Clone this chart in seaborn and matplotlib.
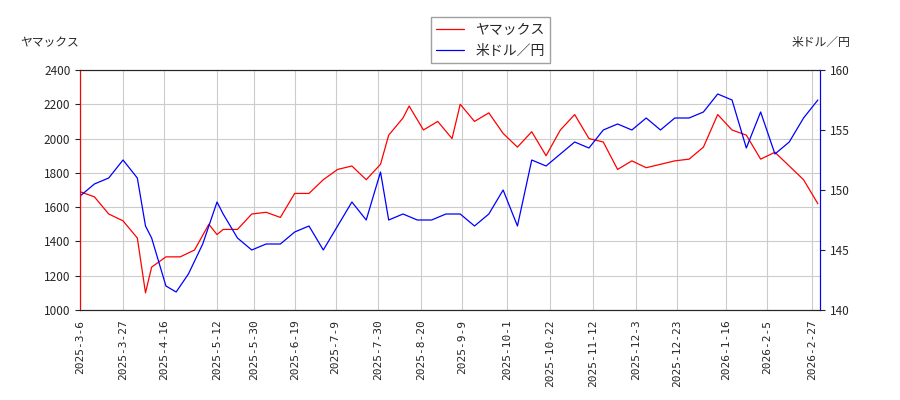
import pandas as pd
import matplotlib
matplotlib.use('Agg')
import matplotlib.pyplot as plt
import seaborn as sns

sns.set_style('white')
plt.rcParams['font.family'] = ['Noto Sans CJK JP', 'DejaVu Sans']

# ── データ ──
dates_red = ['2025-03-06', '2025-03-13', '2025-03-20', '2025-03-27', '2025-04-03', '2025-04-07',
             '2025-04-10', '2025-04-17', '2025-04-24', '2025-05-01', '2025-05-08', '2025-05-12',
             '2025-05-15', '2025-05-22', '2025-05-29', '2025-06-05', '2025-06-12', '2025-06-19',
             '2025-06-26', '2025-07-03', '2025-07-10', '2025-07-17', '2025-07-24', '2025-07-31',
             '2025-08-04', '2025-08-11', '2025-08-14', '2025-08-21', '2025-08-28', '2025-09-04',
             '2025-09-08', '2025-09-15', '2025-09-22', '2025-09-29', '2025-10-06', '2025-10-13',
             '2025-10-20', '2025-10-27', '2025-11-03', '2025-11-10', '2025-11-17', '2025-11-24',
             '2025-12-01', '2025-12-08', '2025-12-15', '2025-12-22', '2025-12-29', '2026-01-05',
             '2026-01-12', '2026-01-19', '2026-01-26', '2026-02-02', '2026-02-09', '2026-02-16',
             '2026-02-23', '2026-03-02']
yamax = [1690, 1660, 1560, 1520, 1420, 1100, 1250, 1310, 1310, 1350, 1500, 1440,
         1470, 1470, 1560, 1570, 1540, 1680, 1680, 1760, 1820, 1840, 1760, 1850,
         2020, 2120, 2190, 2050, 2100, 2000, 2200, 2100, 2150, 2030, 1950, 2040,
         1900, 2050, 2140, 2000, 1980, 1820, 1870, 1830, 1850, 1870, 1880, 1950,
         2140, 2050, 2020, 1880, 1920, 1840, 1760, 1620]

dates_blue = ['2025-03-06', '2025-03-13', '2025-03-20', '2025-03-27', '2025-04-03', '2025-04-07',
              '2025-04-10', '2025-04-17', '2025-04-22', '2025-04-28', '2025-05-05', '2025-05-12',
              '2025-05-15', '2025-05-22', '2025-05-29', '2025-06-05', '2025-06-12', '2025-06-19',
              '2025-06-26', '2025-07-03', '2025-07-10', '2025-07-17', '2025-07-24', '2025-07-31',
              '2025-08-04', '2025-08-11', '2025-08-18', '2025-08-25', '2025-09-01', '2025-09-08',
              '2025-09-15', '2025-09-22', '2025-09-29', '2025-10-06', '2025-10-13', '2025-10-20',
              '2025-10-27', '2025-11-03', '2025-11-10', '2025-11-17', '2025-11-24', '2025-12-01',
              '2025-12-08', '2025-12-15', '2025-12-22', '2025-12-29', '2026-01-05', '2026-01-12',
              '2026-01-19', '2026-01-26', '2026-02-02', '2026-02-09', '2026-02-16', '2026-02-23',
              '2026-03-02']
usdjpy = [149.5, 150.5, 151, 152.5, 151, 147, 146, 142, 141.5, 143, 145.5, 149,
          148, 146, 145, 145.5, 145.5, 146.5, 147, 145, 147, 149, 147.5, 151.5,
          147.5, 148, 147.5, 147.5, 148, 148, 147, 148, 150, 147, 152.5, 152,
          153, 154, 153.5, 155, 155.5, 155, 156, 155, 156, 156, 156.5, 158,
          157.5, 153.5, 156.5, 153, 154, 156, 157.5]

df_r = pd.DataFrame({'date': pd.to_datetime(dates_red), 'v': yamax})
df_b = pd.DataFrame({'date': pd.to_datetime(dates_blue), 'v': usdjpy})

tick_labels = ['2025-3-6', '2025-3-27', '2025-4-16', '2025-5-12', '2025-5-30', '2025-6-19',
               '2025-7-9', '2025-7-30', '2025-8-20', '2025-9-9', '2025-10-1', '2025-10-22',
               '2025-11-12', '2025-12-3', '2025-12-23', '2026-1-16', '2026-2-5', '2026-2-27']

# ── 描画 ──
fig, ax = plt.subplots(figsize=(9, 4), dpi=100)
fig.subplots_adjust(left=0.089, right=0.911, top=0.825, bottom=0.225)
ax2 = ax.twinx()

sns.lineplot(data=df_r, x='date', y='v', ax=ax, color='red', lw=0.9, label='ヤマックス', legend=False)
sns.lineplot(data=df_b, x='date', y='v', ax=ax2, color='blue', lw=0.9, label='米ドル／円', legend=False)

ax.set_ylim(1000, 2400)
ax2.set_ylim(140, 160)
ax2.set_yticks([140, 145, 150, 155, 160])
ax.set_xlim(pd.Timestamp('2025-03-06'), pd.Timestamp('2026-03-03'))
ax.set_xticks(pd.to_datetime(tick_labels))
ax.set_xticklabels(tick_labels, rotation=90, family='DejaVu Sans Mono', fontsize=8)
ax.tick_params(axis='y', labelsize=8.5)
ax2.tick_params(axis='y', labelsize=8.5)
ax.grid(True, color='#cccccc', lw=0.8)
ax.set_xlabel('')
ax.set_ylabel('')
ax2.set_ylabel('')
ax2.spines['left'].set_color('red')
ax2.spines['right'].set_color('blue')

fig.text(0.022, 0.885, 'ヤマックス', fontsize=8.5)
fig.text(0.945, 0.885, '米ドル／円', fontsize=8.5, ha='right')

h1, l1 = ax.get_legend_handles_labels()
h2, l2 = ax2.get_legend_handles_labels()
fig.legend(h1 + h2, l1 + l2, loc='upper center', bbox_to_anchor=(0.545, 0.975),
           fontsize=10, frameon=True, fancybox=False, edgecolor='#888888')

fig.savefig('out.png', dpi=100)
